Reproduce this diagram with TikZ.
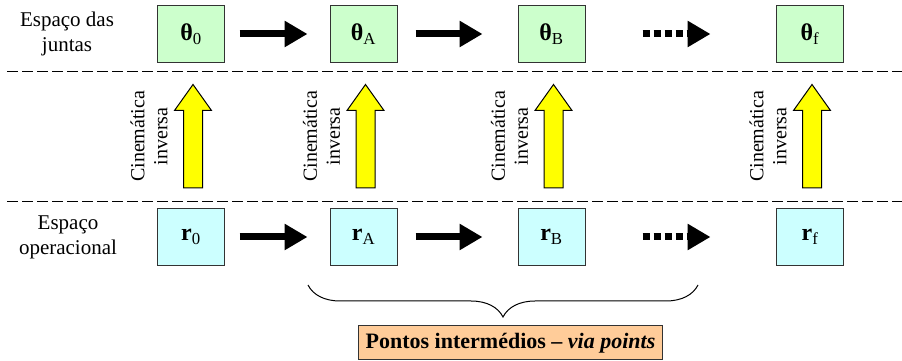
\documentclass[tikz,border=0pt]{standalone}
\usepackage{fontspec}
\setmainfont{Liberation Serif}
\usepackage{tikz}
\usetikzlibrary{arrows.meta,calc,positioning,decorations.pathreplacing}

\definecolor{jointgreen}{HTML}{CCFFCC}
\definecolor{opcyan}{HTML}{CCFFFF}
\definecolor{viapeach}{HTML}{FFCC99}
\definecolor{ikyellow}{HTML}{FFFF00}

\tikzset{
    spacebox/.style={draw=black!80, line width=1pt, minimum width=67pt, minimum height=57pt, inner sep=0pt, font=\fontsize{24}{27}\selectfont},
    flowarrow/.style={line width=7pt, -{Triangle[length=23pt,width=25pt]}},
    ikarrow/.style={draw=black, line width=1pt, fill=ikyellow, line join=miter},
    separator/.style={line width=1pt, dash pattern=on 11pt off 4pt}
}

\begin{document}
\begin{tikzpicture}[x=1pt, y=1pt, font=\fontsize{21}{25}\selectfont]
\useasboundingbox (0,0) rectangle (902,361);

% Joint space row
\node[align=center] (lj) at (67,327) {Espaço das\\juntas};
\foreach \c/\x in {0/191, A/363.5, B/551.5, f/810}
    \node[spacebox, fill=jointgreen] (th\c) at (\x,327) {\textbf{θ}\textsubscript{\c}};

% Operational space row
\node[align=center] (lo) at (68,124) {Espaço\\operacional};
\foreach \c/\x in {0/191, A/363.5, B/551.5, f/810}
    \node[spacebox, fill=opcyan] (r\c) at (\x,124) {\textbf{r}\textsubscript{\c}};

% Separators
\draw[separator] (7,289) -- (902,289);
\draw[separator] (7,159) -- (902,159);

% Sequence arrows
\foreach \row in {th, r} {
    \draw[flowarrow, shorten <=14.5pt, shorten >=22pt] (\row0.east) -- (\row A.west);
    \draw[flowarrow, shorten <=18pt, shorten >=35pt] (\row A.east) -- (\row B.west);
    \draw[flowarrow, dash pattern=on 7pt off 4pt, shorten <=57pt, shorten >=65.5pt] (\row B.east) -- (\row f.west);
}

% Inverse kinematics arrows
\foreach \c in {0, A, B, f} {
    \coordinate (b\c) at ($(r\c.north)+(2,20)$);
    \coordinate (t\c) at ($(th\c.south)+(2,-21.5)$);
    \draw[ikarrow] ($(b\c)+(-9.5,0)$) -- ($(t\c)+(-9.5,-26)$) -- ++(-9,0) -- (t\c)
        -- ($(t\c)+(18.5,-26)$) -- ++(-9,0) -- ($(b\c)+(9.5,0)$) -- cycle;
    \node[rotate=90, align=center, font=\fontsize{20}{23}\selectfont] (ik\c) at ($(b\c)!0.5!(t\c)+(-44,0)$) {Cinemática\\inversa};
}

% Via points
\coordinate (bl) at (308,76);
\coordinate (br) at (698,76);
\draw[line width=1pt, decorate, decoration={brace, amplitude=32pt}] (br) -- (bl);
\node[draw=black!80, line width=1pt, fill=viapeach, minimum height=34pt, inner xsep=7pt, font=\fontsize{22}{26}\selectfont] (via) at (510.5,18)
    {\textbf{Pontos intermédios – \textit{via points}}};

\end{tikzpicture}
\end{document}
